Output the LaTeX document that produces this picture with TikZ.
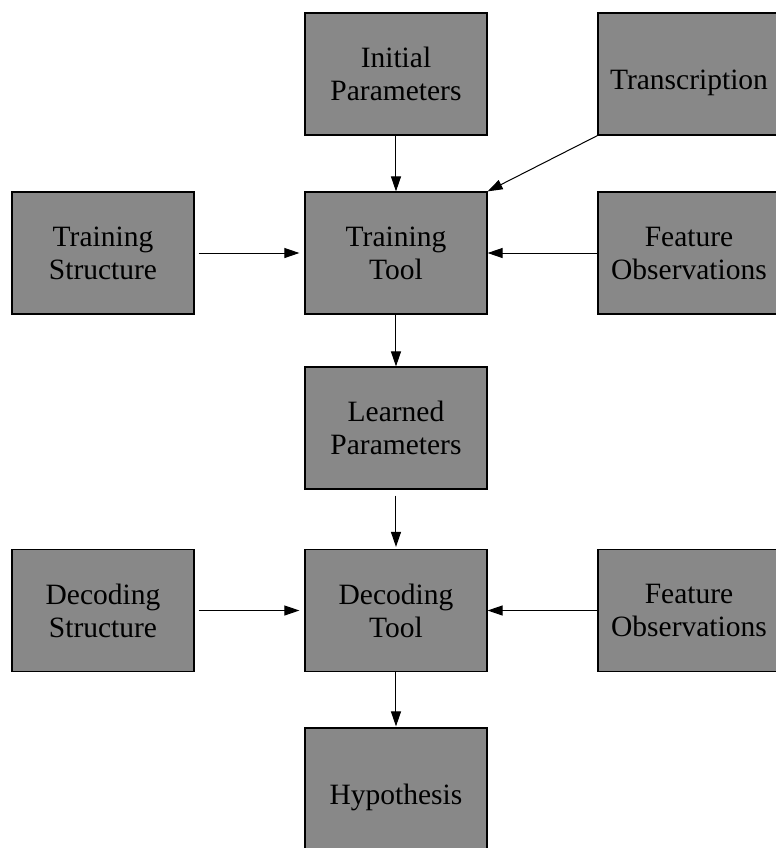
\documentclass[tikz,border=0pt]{standalone}
\usepackage{fontspec}
\setmainfont{Liberation Serif}
\usetikzlibrary{positioning, arrows.meta}
\definecolor{boxgray}{HTML}{888888}

\begin{document}
\begin{tikzpicture}[node distance=146.5pt, on grid,
    >={Triangle[length=7.5pt,width=5pt]},
    block/.style={draw, line width=0.6pt, fill=boxgray, minimum width=91pt,
      minimum height=61pt, inner sep=0pt, align=center,
      font=\fontsize{14.75}{16.5}\selectfont},
    oneline/.style={text height=19pt, text depth=3.5pt}]
  \useasboundingbox (-198pt,37pt) rectangle (190pt,-387pt);

  \node[block] (init) {Initial\\Parameters};
  \node[block, oneline] (trans) [right=of init] {Transcription};
  \node[block] (train) [below=89.5pt of init] {Training\\Tool};
  \node[block] (tstruct) [left=of train] {Training\\Structure};
  \node[block] (tfeat) [right=of train] {Feature\\Observations};
  \node[block] (learned) [below=87.5pt of train] {Learned\\Parameters};
  \node[block] (decode) [below=91.25pt of learned] {Decoding\\Tool};
  \node[block] (dstruct) [left=of decode] {Decoding\\Structure};
  \node[block] (dfeat) [right=of decode] {Feature\\Observations};
  \node[block, oneline] (hyp) [below=89.25pt of decode] {Hypothesis};

  \path[->, line width=0.5pt]
  (init) edge (train)
  (trans.south west) edge (train.north east)
  (tstruct) edge[shorten <=2pt, shorten >=2.5pt] (train)
  (tfeat) edge (train)
  (train) edge (learned)
  (learned) edge[shorten <=3pt, shorten >=1pt] (decode)
  (dstruct) edge[shorten <=2pt, shorten >=2.5pt] (decode)
  (dfeat) edge (decode)
  (decode) edge[shorten >=0.5pt] (hyp);
\end{tikzpicture}
\end{document}
